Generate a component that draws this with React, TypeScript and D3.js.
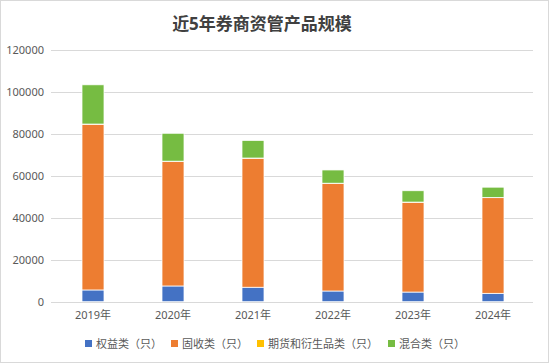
import React from "react";
import * as d3 from "d3";

const years = ["2019年", "2020年", "2021年", "2022年", "2023年", "2024年"];
const seriesNames = ["权益类（只）", "固收类（只）", "期货和衍生品类（只）", "混合类（只）"];
const equity = [5600, 7500, 6900, 5100, 4600, 4000];
const fixedIncome = [79000, 59400, 61500, 51300, 42800, 45600];
const futures = [100, 100, 100, 100, 100, 100];
const mixed = [18700, 13300, 8400, 6300, 5400, 4900];
const yTicks = [0, 20000, 40000, 60000, 80000, 100000, 120000];
const colors = ["#4472C4", "#ED7D31", "#FFC000", "#76BC42"];

const W = 550;
const H = 364;
const FONT = "'Noto Sans', 'Noto Sans CJK SC', sans-serif";

export default function App() {
  const x = d3.scaleBand<string>().domain(years).range([53, 533]).paddingInner(0.725).paddingOuter(0.3625);
  const y = d3.scaleLinear().domain([0, 120000]).range([301.7, 50]);

  const rows = years.map((yr, i) => ({
    year: yr,
    s0: equity[i],
    s1: fixedIncome[i],
    s2: futures[i],
    s3: mixed[i],
  }));
  const stack = d3.stack<any>().keys(["s0", "s1", "s2", "s3"]);
  const layers = stack(rows);

  const legendX = [85, 171, 257, 388];

  return (
    <svg width={W} height={H} style={{ position: "absolute", left: 0, top: 0 }} fontFamily={FONT}>
      <rect x={0.5} y={0.5} width={W - 2} height={H - 2} fill="#fff" stroke="#D9D9D9" />
      <text x={262} y={30} textAnchor="middle" fontSize={17} fontWeight="bold" fill="#404040">
        近5年券商资管产品规模
      </text>
      {yTicks.map((t) => (
        <g key={t}>
          <line x1={51} x2={533} y1={Math.round(y(t)) + 0.5} y2={Math.round(y(t)) + 0.5} stroke="#D9D9D9" strokeWidth={1} />
          <text x={44} y={y(t)} dy="0.35em" textAnchor="end" fontSize={11} fill="#595959">
            {t}
          </text>
        </g>
      ))}
      {layers.map((layer, li) => (
        <g key={li}>
          {layer.map((d, i) => (
            <rect
              key={i}
              x={x(years[i])!}
              width={x.bandwidth()}
              y={y(d[1])}
              height={Math.max(0, y(d[0]) - y(d[1]))}
              fill={colors[li]}
              stroke="#fff"
              strokeWidth={0.75}
            />
          ))}
        </g>
      ))}
      {years.map((yr) => (
        <text key={yr} x={x(yr)! + x.bandwidth() / 2} y={319} textAnchor="middle" fontSize={11} fill="#595959">
          {yr}
        </text>
      ))}
      {seriesNames.map((n, i) => (
        <g key={n}>
          <rect x={legendX[i]} y={340} width={7} height={7} fill={colors[i]} />
          <text x={legendX[i] + 11} y={347.5} fontSize={11} fill="#595959">
            {n}
          </text>
        </g>
      ))}
    </svg>
  );
}
